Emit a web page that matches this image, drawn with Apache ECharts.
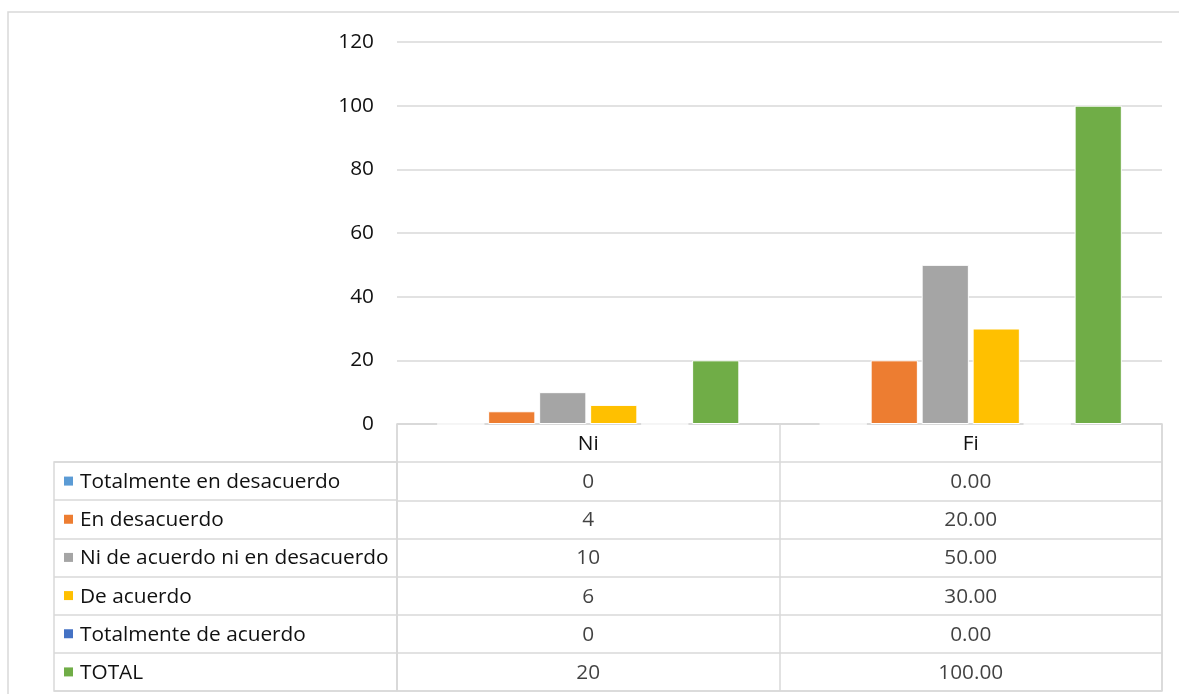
<!DOCTYPE html>
<html><head><meta charset="utf-8">
<script src="https://cdn.jsdelivr.net/npm/echarts@6/dist/echarts.min.js"></script>
<style>html,body{margin:0;padding:0;background:#fff}#c{width:1179px;height:694px}</style>
</head><body><div id="c"></div>
<script>
const categories = ['Ni', 'Fi'];
const seriesNames = ['Totalmente en desacuerdo', 'En desacuerdo', 'Ni de acuerdo ni en desacuerdo', 'De acuerdo', 'Totalmente de acuerdo', 'TOTAL'];
const niValues = [0, 4, 10, 6, 0, 20];
const fiValues = [0, 20, 50, 30, 0, 100];
const yMin = 0, yMax = 120, yInterval = 20;

const colors = ['#5B9BD5', '#ED7D31', '#A5A5A5', '#FFC000', '#4472C4', '#70AD47'];
const FONT = 'Open Sans';
const FS = 20.8;
const LINE = '#d9d9d9';
const TXT = '#111111';

const chart = echarts.init(document.getElementById('c'), null, {renderer: 'canvas'});

const barSeries = seriesNames.map((n, i) => ({
  type: 'bar', name: n, xAxisIndex: 0, yAxisIndex: 0,
  data: [niValues[i], fiValues[i]],
  barGap: '8%', barCategoryGap: '21%',
  itemStyle: {color: colors[i], borderColor: '#fff', borderWidth: 1},
  emphasis: {disabled: true}
}));

const cellData = [];
seriesNames.forEach((n, i) => {
  cellData.push({value: [0, i + 1], text: String(niValues[i])});
  cellData.push({value: [1, i + 1], text: fiValues[i].toFixed(2)});
});

const rich = {t: {fontFamily: FONT, fontSize: FS, color: TXT, padding: [2, 0, 0, 7]}};
colors.forEach((c, i) => { rich['m' + i] = {width: 9, height: 9, backgroundColor: c}; });

chart.setOption({
  animation: false,
  textStyle: {fontFamily: FONT},
  graphic: [{type: 'rect', shape: {x: 8, y: 12, width: 1200, height: 720}, style: {fill: 'none', stroke: LINE, lineWidth: 1.5}, silent: true, z: -10}],
  grid: [
    {left: 397, right: 17, top: 42, height: 382},
    {left: 397, right: 17, top: 424, height: 267, show: true, borderColor: LINE, borderWidth: 1.5},
    {left: 54, width: 343, top: 462, height: 229, show: true, borderColor: LINE, borderWidth: 1.5}
  ],
  xAxis: [
    {gridIndex: 0, type: 'category', data: categories, axisLine: {show: false}, axisTick: {show: false}, axisLabel: {show: false}},
    {gridIndex: 1, type: 'category', data: categories, position: 'top', axisLine: {show: false}, axisTick: {show: false},
     axisLabel: {inside: true, margin: 20, verticalAlign: 'middle', fontFamily: FONT, fontSize: FS, color: TXT, interval: 0},
     splitLine: {show: true, interval: 0, lineStyle: {color: LINE, width: 1.5}}},
    {gridIndex: 2, type: 'value', min: 0, max: 1, show: false}
  ],
  yAxis: [
    {gridIndex: 0, type: 'value', min: yMin, max: yMax, interval: yInterval,
     axisLine: {show: false}, axisTick: {show: false},
     axisLabel: {margin: 23, fontFamily: FONT, fontSize: FS, color: TXT},
     splitLine: {lineStyle: {color: LINE, width: 1.5}}},
    {gridIndex: 1, type: 'category', inverse: true, data: [''].concat(seriesNames),
     axisLine: {show: false}, axisTick: {show: false}, axisLabel: {show: false},
     splitLine: {show: true, interval: 0, lineStyle: {color: LINE, width: 1.5}}},
    {gridIndex: 2, type: 'category', inverse: true, data: seriesNames,
     axisLine: {show: false}, axisTick: {show: false},
     axisLabel: {inside: true, margin: 10, interval: 0,
       formatter: (v, i) => '{m' + i + '|}{t|' + v + '}', rich: rich},
     splitLine: {show: true, interval: 0, lineStyle: {color: LINE, width: 1.5}}}
  ],
  series: barSeries.concat([{
    type: 'scatter', xAxisIndex: 1, yAxisIndex: 1, symbolSize: 0, silent: true,
    data: cellData,
    label: {show: true, position: 'inside', offset: [0, 1], formatter: p => p.data.text,
            fontFamily: FONT, fontSize: FS, color: TXT}
  }])
});
</script></body></html>
